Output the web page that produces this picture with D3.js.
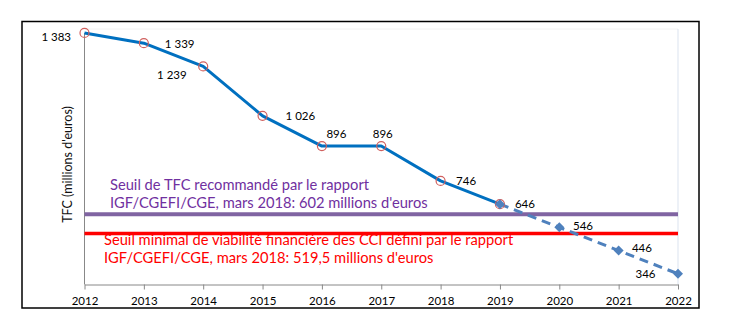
<!DOCTYPE html>
<html><head><meta charset="utf-8">
<script src="https://cdn.jsdelivr.net/npm/d3@7"></script>
<style>body{margin:0;background:#fff}svg{display:block}</style>
</head><body>
<script>
const years = [2012,2013,2014,2015,2016,2017,2018,2019,2020,2021,2022];
const actualYears = [2012,2013,2014,2015,2016,2017,2018,2019];
const actualValues = [1383,1339,1239,1026,896,896,746,646];
const projYears = [2019,2020,2021,2022];
const projValues = [646,546,446,346];
const thresholdRecommended = 602;
const thresholdMinimal = 519.5;
const yTitle = "TFC (millions d'euros)";
const recText = ["Seuil de TFC recommandé par le rapport","IGF/CGEFI/CGE, mars 2018: 602 millions d'euros"];
const minText = ["Seuil minimal de viabilité financière des CCI défini par le rapport","IGF/CGEFI/CGE, mars 2018: 519,5 millions d'euros"];

const W=733,H=329;
const svg=d3.select("body").append("svg").attr("width",W).attr("height",H);
const x=d3.scaleLinear().domain([2012,2022]).range([84.5,678]);
const y=d3.scaleLinear().domain([300,1400]).range([284.5,29]);
const fmt=v=>d3.format(",")(v).replace(/,/g," ");
const font="Lato, 'Open Sans', sans-serif";

// border
svg.append("rect").attr("x",22).attr("y",21.5).attr("width",677).attr("height",286.5)
  .attr("fill","none").attr("stroke","#000").attr("stroke-width",1.5);

// faint gridlines
svg.append("line").attr("x1",x(2012)).attr("x2",x(2022)).attr("y1",y(1400)).attr("y2",y(1400))
  .attr("stroke","#f2f2f2").attr("stroke-width",1);
svg.append("line").attr("x1",x(2022)).attr("x2",x(2022)).attr("y1",y(1400)).attr("y2",y(300))
  .attr("stroke","#dbe3ef").attr("stroke-width",1);

// x axis
const xAxis=d3.axisBottom(x).tickValues(years).tickFormat(d3.format("d")).tickSize(5).tickSizeOuter(0);
const gx=svg.append("g").attr("transform",`translate(0,${y(300)})`).call(xAxis);
gx.select(".domain").attr("stroke","#888");
gx.selectAll(".tick line").attr("stroke","#888");
gx.selectAll(".tick text").attr("font-family",font).attr("font-size",11.5).attr("fill","#000").attr("dy","1.05em");
// y axis line
svg.append("line").attr("x1",x(2012)).attr("x2",x(2012)).attr("y1",y(1383)).attr("y2",y(300))
  .attr("stroke","#888").attr("stroke-width",1);

// y title
svg.append("text").attr("transform",`translate(72,164.5) rotate(-90)`).attr("text-anchor","middle")
  .attr("font-family",font).attr("font-size",12.5).attr("fill","#111").text(yTitle);

// threshold texts
const recG=svg.append("g");
recText.forEach((t,i)=>recG.append("text").attr("x",110).attr("y",190+i*18).attr("font-family",font)
  .attr("font-size",14.7).attr("fill","#7030A0").text(t));
const minG=svg.append("g");
minText.forEach((t,i)=>minG.append("text").attr("x",104).attr("y",245+i*18).attr("font-family",font)
  .attr("font-size",14.7).attr("fill","#ff0000").text(t));

// threshold lines
svg.append("line").attr("x1",x(2012)).attr("x2",x(2022)).attr("y1",y(thresholdRecommended)).attr("y2",y(thresholdRecommended))
  .attr("stroke","#8064A2").attr("stroke-width",4);
svg.append("line").attr("x1",x(2012)).attr("x2",x(2022)).attr("y1",y(thresholdMinimal)).attr("y2",y(thresholdMinimal))
  .attr("stroke","#ff0000").attr("stroke-width",3.5);

// lines
const line=d3.line().x(d=>x(d[0])).y(d=>y(d[1]));
const actual=actualYears.map((yr,i)=>[yr,actualValues[i]]);
const proj=projYears.map((yr,i)=>[yr,projValues[i]]);
svg.append("path").datum(proj).attr("d",line).attr("fill","none").attr("stroke","#4F81BD")
  .attr("stroke-width",3).attr("stroke-dasharray","9,6");
svg.append("path").datum(actual).attr("d",line).attr("fill","none").attr("stroke","#0070C0")
  .attr("stroke-width",3).attr("stroke-linejoin","round");

svg.selectAll("circle.m").data(actual).enter().append("circle").attr("class","m")
  .attr("cx",d=>x(d[0])).attr("cy",d=>y(d[1])).attr("r",4.5)
  .attr("fill","none").attr("stroke","#D0605E").attr("stroke-width",1.2);
svg.selectAll("path.dm").data(proj).enter().append("path").attr("class","dm")
  .attr("d",d3.symbol().type(d3.symbolSquare).size(50))
  .attr("transform",d=>`translate(${x(d[0])},${y(d[1])}) rotate(45)`).attr("fill","#4F81BD");

// value labels: [dx, dy(center), anchor]
const allPts=actual.concat(proj.slice(1));
const offs={2012:[-13.5,4,"end"],2013:[21,1,"start"],2014:[-16.5,9,"end"],2015:[23,0,"start"],
  2016:[4.5,-12,"start"],2017:[1.5,-12,"middle"],2018:[15.5,0,"start"],2019:[15,0,"start"],
  2020:[13.7,-1,"start"],2021:[13.3,-2.5,"start"],2022:[-22.5,0,"end"]};
svg.selectAll("text.v").data(allPts).enter().append("text").attr("class","v")
  .attr("x",d=>x(d[0])+offs[d[0]][0]).attr("y",d=>y(d[1])+offs[d[0]][1]+4)
  .attr("text-anchor",d=>offs[d[0]][2]).attr("font-family",font).attr("font-size",11.5).attr("fill","#000")
  .text(d=>fmt(d[1]));
</script>
</body></html>
